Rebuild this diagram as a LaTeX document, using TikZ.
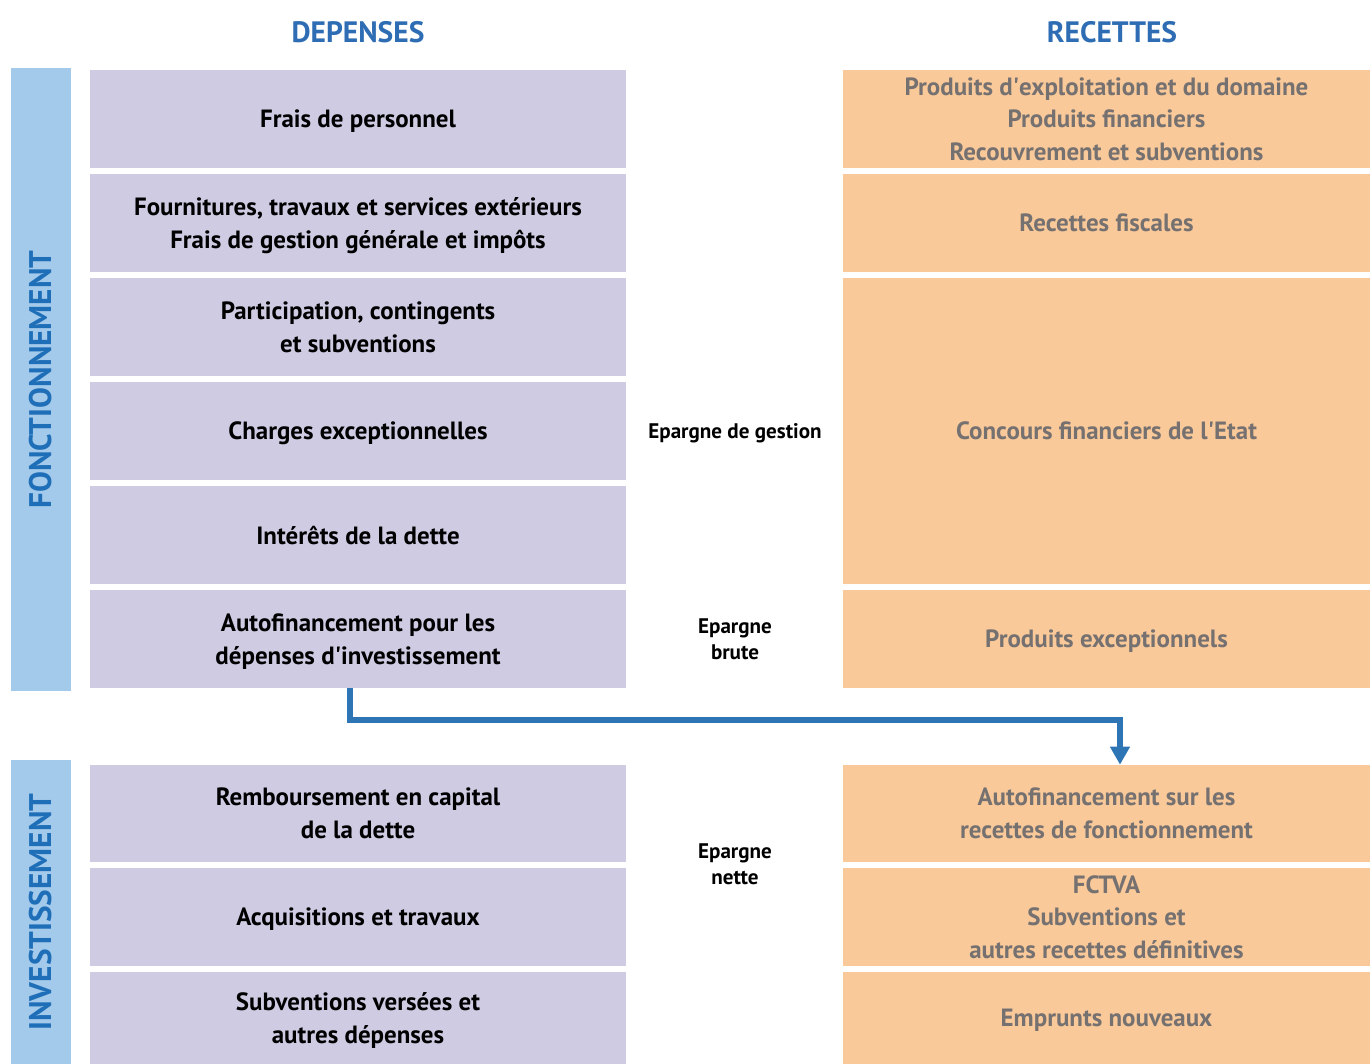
\documentclass[tikz,border=0pt]{standalone}
\usepackage{fontspec}
\setmainfont{PT Sans}
\usepackage{tikz}
\usetikzlibrary{arrows.meta, calc}
\definecolor{depfill}{HTML}{CFCBE3}
\definecolor{recfill}{HTML}{FAC999}
\definecolor{barfill}{HTML}{A3C9EB}
\definecolor{headblue}{HTML}{2E6DB4}
\definecolor{barblue}{HTML}{1F6FB8}
\definecolor{rectext}{HTML}{767171}
\definecolor{flowblue}{HTML}{2E75B6}
\newcommand{\apos}{\textquotesingle}

\begin{document}
\begin{tikzpicture}[x=0.02cm, y=-0.02cm,
        dep/.style={fill=depfill, inner sep=0pt, text depth=0pt, align=center, minimum width=10.72cm, minimum height=1.96cm, font=\fontsize{14.2}{18.7}\selectfont\bfseries},
        rec/.style={fill=recfill, inner sep=0pt, text depth=0pt, align=center, minimum width=10.54cm, minimum height=1.96cm, text=rectext, font=\fontsize{14.2}{18.7}\selectfont\bfseries},
        side/.style={fill=barfill, inner sep=0pt, minimum width=1.2cm, text=barblue, font=\fontsize{17.8}{20}\selectfont\bfseries},
        head/.style={text=headblue, font=\fontsize{16.8}{20}\selectfont\bfseries},
        epargne/.style={align=center, text depth=0pt, font=\fontsize{12}{14.7}\selectfont\bfseries},
        arr/.style={-{Triangle[length=3.6mm, width=3.8mm]}, line width=1.2mm, draw=flowblue}]
    \useasboundingbox (0,0) rectangle (1370,1064);
    % column titles
    \node[head] (hdep) at (358,32) {DEPENSES};
    \node[head] (hrec) at (1112,32) {RECETTES};
    % section bars
    \node[side, minimum height=12.46cm] (fonct) at (41,379.5) {\rotatebox{90}{FONCTIONNEMENT}};
    \node[side, minimum height=6.08cm] (invest) at (41,912) {\rotatebox{90}{INVESTISSEMENT}};
    % depenses de fonctionnement
    \node[dep] (dep1) at (358,119) {Frais de personnel};
    \node[dep] (dep2) at (358,223) {Fournitures, travaux et services extérieurs\\Frais de gestion générale et impôts};
    \node[dep] (dep3) at (358,327) {Participation, contingents\\et subventions};
    \node[dep] (dep4) at (358,431) {Charges exceptionnelles};
    \node[dep] (dep5) at (358,535) {Intérêts de la dette};
    \node[dep] (dep6) at (358,639) {Autofinancement pour les\\dépenses d\apos investissement};
    % recettes de fonctionnement
    \node[rec] (rec1) at (1106.5,119) {Produits d\apos exploitation et du domaine\\Produits financiers\\Recouvrement et subventions};
    \node[rec] (rec2) at (1106.5,223) {Recettes fiscales};
    \node[rec, minimum height=6.12cm] (rec3) at (1106.5,431) {Concours financiers de l\apos Etat};
    \node[rec] (rec4) at (1106.5,639) {Produits exceptionnels};
    % investissement
    \node[dep, minimum height=1.94cm] (dep7) at (358,813.5) {Remboursement en capital\\de la dette};
    \node[dep] (dep8) at (358,917) {Acquisitions et travaux};
    \node[dep, minimum height=1.84cm] (dep9) at (358,1018) {Subventions versées et\\autres dépenses};
    \node[rec, minimum height=1.94cm] (rec7) at (1106.5,813.5) {Autofinancement sur les\\recettes de fonctionnement};
    \node[rec] (rec8) at (1106.5,917) {FCTVA\\Subventions et\\autres recettes définitives};
    \node[rec, minimum height=1.84cm] (rec9) at (1106.5,1018) {Emprunts nouveaux};
    % soldes
    \node[epargne] (gestion) at (735,431) {Epargne de gestion};
    \node[epargne] (brute) at (735,639) {Epargne\\brute};
    \node[epargne] (nette) at (735,864) {Epargne\\nette};
    % autofinancement vers l'investissement
    \draw[arr] ($(dep6.south)+(-8,0)$) -- ++(0,32) -| ($(rec7.north)+(13.5,0)$);
\end{tikzpicture}
\end{document}
